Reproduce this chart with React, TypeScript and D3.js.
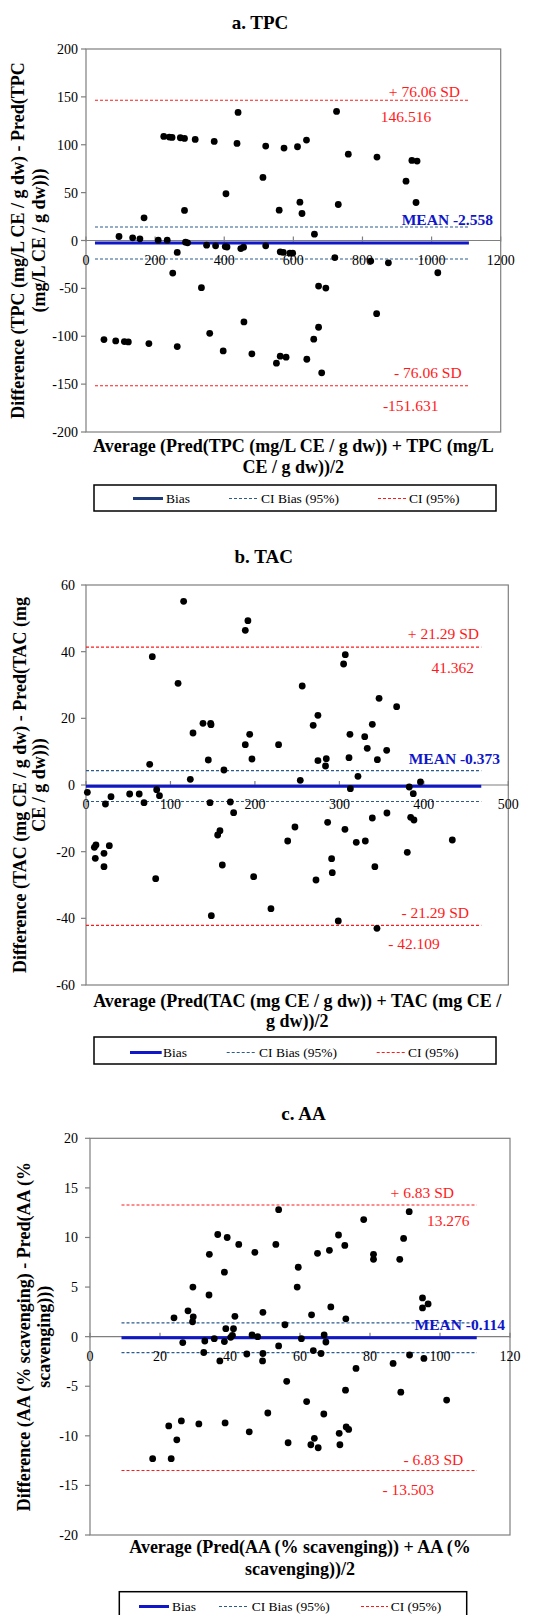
import * as d3 from "d3";

const FONT = "'Liberation Serif', 'Times New Roman', Times, serif";

// ---- a. TPC : [average, difference]
const tpcPoints: [number, number][] = [
  [95.5, 4.2], [135, 2.8], [156, 1.7], [168, 23.7], [209, 0.3], [225, 108.7], [235, 0.3],
  [241, 108], [249, 107.7], [264, -12.5], [273, 107.3], [285, 106.6], [285, 31.4], [288, -1.7],
  [294, -2.4], [316, 105.6], [349, -4.9], [371, 103.5], [375, -5.6], [403, -6.3], [408, -6.8],
  [405, 48.8], [437, 101.4], [440, 133.8], [448, -8.4], [456, -7], [512, 65.9], [520, 98.6],
  [520, -5.6], [559, 31.7], [562, -11.8], [573, 96.5], [571, -12.5], [590, -13.2], [598, -13.2],
  [612, 97.9], [619, 40], [625, 28.2], [638, 104.9], [661, 6.6], [720, -17.8], [725, 134.8],
  [730, 37.6], [759, 90.2], [824, -21.5], [875, -23.3], [842, 87.1], [926, 62], [943, 83.6],
  [958, 82.9], [955, 39.7], [251, -34], [334, -49.3], [52, -103.5], [86, -104.9], [111, -105.6],
  [122.5, -105.9], [182, -107.6], [264, -110.8], [358, -96.9], [397, -115.3], [457, -85],
  [480, -118.4], [551, -128.1], [562, -120.8], [579, -121.9], [639, -124], [659, -103.1],
  [673, -47.6], [694, -49.7], [673, -90.6], [682, -138.2], [841, -76.4], [1018, -33.7],
];
const tpcBias = -2.558;
const tpcCiBias = [-19.26, 14.14];
const tpcLoa = [-151.631, 146.516];
const tpcSpan = [26, 1108];
const tpcXTicks = [0, 200, 400, 600, 800, 1000, 1200];
const tpcYTicks = [-200, -150, -100, -50, 0, 50, 100, 150, 200];

// ---- b. TAC
const tacPoints: [number, number][] = [
  [1.6, -2.2], [29.6, -3.5], [51.7, -2.7], [63, -2.7], [75.4, 6.2], [78.5, 38.5], [83.7, -1.4],
  [87, -3.2], [109, 30.5], [115.6, 55.1], [123.5, 1.7], [126.7, 15.6], [138.5, 18.5], [144.8, 7.5],
  [147.6, 18.5], [148, 18.1], [163.3, 4.5], [188.6, 12.1], [188.6, 46.4], [191.7, 49.3],
  [193.8, 15.2], [196.5, 7.8], [228, 12.1], [253.7, 1.4], [256, 29.7], [269, 17.9], [274.6, 20.9],
  [274.6, 7.3], [283.6, 5.7], [284.5, 7.9], [305, 36.3], [307, 39.1], [311.4, 8.2], [312.5, 15.2],
  [313, -1.1], [322, 2.6], [330, 14.5], [333, 11], [339, 18.2], [345, 7.6], [347, 26], [356, 10.4],
  [367.8, 23.5], [382.7, -0.6], [387.5, -2.6], [396, 0.9],
  [23, -5.7], [68.7, -5.3], [146.8, -5.3], [170.9, -5.1], [174.8, -8.3], [9.9, -18.7], [11.8, -18],
  [11, -22], [21.3, -20.5], [21.3, -24.5], [27.6, -18.2], [82.5, -28.1], [155.9, -15],
  [158.6, -13.7], [161.4, -24], [148.4, -39.2], [198.5, -27.5], [219, -37.1], [238.8, -16.8],
  [247.4, -12.6], [272.3, -28.5], [286.1, -11.2], [290.8, -22.1], [291.6, -26.3], [298.7, -40.8],
  [306.6, -13.3], [320, -17.2], [330.7, -16.8], [339, -9.9], [342, -24.5], [344.5, -43],
  [356.3, -8.4], [380.4, -20.2], [384.4, -9.7], [388.3, -10.5], [433.7, -16.5],
];
const tacBias = -0.373;
const tacCiBias = [-4.95, 4.3];
const tacLoa = [-42.109, 41.362];
const tacSpan = [0, 468];
const tacXTicks = [0, 100, 200, 300, 400, 500];
const tacYTicks = [-60, -40, -20, 0, 20, 40, 60];

// ---- c. AA
const aaPoints: [number, number][] = [
  [24, 1.9], [28, 2.6], [29.4, 5.0], [29.5, 2.0], [29.3, 1.5], [34, 4.2], [34.1, 8.3], [36.5, 10.3],
  [38.4, 6.5], [38.8, 0.8], [39.2, 10], [41, 0.8], [41.4, 2.05], [42.5, 9.3], [47.1, 8.5],
  [46.3, 0.17], [47.9, 0.0], [49.4, 2.45], [53.1, 9.3], [53.9, 12.8], [55.7, 1.2], [59.5, 7.0],
  [59.2, 5.0], [63.3, 2.2], [65, 8.4], [68.4, 8.7], [68.8, 3.0], [71, 10.25], [72.8, 9.2],
  [73.1, 1.8], [78.2, 11.8], [81, 8.3], [81, 7.8], [88.5, 7.8], [89.6, 9.9], [91.2, 12.6],
  [95, 3.9], [95, 2.9], [96.6, 3.3],
  [26.5, -0.6], [32.8, -0.44], [32.5, -1.6], [35.5, -0.2], [37.1, -2.45], [38.4, -0.5],
  [40.2, -0.07], [40.7, 0.13], [44.8, -1.75], [49.4, -1.7], [49.3, -2.45], [53.9, -0.94],
  [60.4, -0.2], [63.8, -1.4], [66, -1.7], [66.9, 0.17], [67.4, -0.54], [56.2, -4.5], [76, -3.2],
  [73, -5.4], [86.6, -2.7], [91.3, -1.85], [95.4, -2.2], [88.8, -5.6], [101.9, -6.4], [61.9, -6.55],
  [66.8, -7.8], [50.8, -7.7], [17.9, -12.3], [23.2, -12.3], [22.5, -9.0], [26.1, -8.5],
  [24.8, -10.4], [31.1, -8.8], [38.6, -8.7], [45.5, -9.6], [56.6, -10.7], [63.1, -10.9],
  [64.1, -10.25], [65.2, -11.2], [71.2, -9.75], [71.4, -10.9], [73.2, -9.1], [73.9, -9.35],
];
const aaBias = -0.114;
const aaCiBias = [-1.61, 1.39];
const aaLoa = [-13.503, 13.276];
const aaSpan = [9, 110.5];
const aaXTicks = [0, 20, 40, 60, 80, 100, 120];
const aaYTicks = [-20, -15, -10, -5, 0, 5, 10, 15, 20];

const legendLabels = ["Bias", "CI Bias (95%)", "CI (95%)"];

const RED = "#ff1a1a";
const BLUE = "#0f17c8";
const STEEL = "#2b5a8c";
const AXIS = "#7f7f7f";

type Lbl = { text: string; x: number; y: number; anchor: string };

type PanelProps = {
  title: string;
  titlePos: [number, number];
  points: [number, number][];
  bias: number;
  ciBias: number[];
  loa: number[];
  span: number[];
  xTicks: number[];
  yTicks: number[];
  box: { l: number; r: number; t: number; b: number };
  yLabelX: number;
  yTitle: string[];
  yTitleX: number[];
  xTitle: string[];
  xTitleY: number[];
  labels: Lbl[];
  meanLabel: Lbl;
  legend: { x: number; y: number; w: number; h: number; base: number; items: number[][]; biasColor: string };
};

function Panel(p: PanelProps) {
  const x = d3.scaleLinear().domain(d3.extent(p.xTicks) as [number, number]).range([p.box.l, p.box.r]);
  const y = d3.scaleLinear().domain(d3.extent(p.yTicks) as [number, number]).range([p.box.b, p.box.t]);
  const y0 = y(0);
  const cy = (p.box.t + p.box.b) / 2;
  const cx = (p.box.l + p.box.r) / 2;
  const hline = (v: number, color: string, w: number, dash?: string) => (
    <line x1={x(p.span[0])} x2={x(p.span[1])} y1={y(v)} y2={y(v)} stroke={color} strokeWidth={w} strokeDasharray={dash} />
  );
  const lg = p.legend;
  return (
    <g>
      <text x={p.titlePos[0]} y={p.titlePos[1]} textAnchor="middle" fontWeight="bold" fontSize={19}>{p.title}</text>
      {/* plot frame */}
      <rect x={p.box.l} y={p.box.t} width={p.box.r - p.box.l} height={p.box.b - p.box.t} fill="none" stroke={AXIS} strokeWidth={1.2} />
      {/* y axis ticks and labels */}
      {p.yTicks.map(t => (
        <g key={"y" + t}>
          <line x1={p.box.l - 5} x2={p.box.l} y1={y(t)} y2={y(t)} stroke={AXIS} strokeWidth={1.2} />
          <text x={p.yLabelX} y={y(t) + 5} textAnchor="end" fontSize={14}>{t}</text>
        </g>
      ))}
      {/* x axis at zero */}
      <line x1={p.box.l} x2={p.box.r} y1={y0} y2={y0} stroke={AXIS} strokeWidth={1.2} />
      {p.xTicks.map(t => (
        <g key={"x" + t}>
          <line x1={x(t)} x2={x(t)} y1={y0 - 4} y2={y0 + 1} stroke={AXIS} strokeWidth={1.2} />
        </g>
      ))}
      {/* reference lines */}
      {hline(p.loa[1], RED, 1.1, "3,2")}
      {hline(p.loa[0], RED, 1.1, "3,2")}
      {hline(p.ciBias[1], STEEL, 1.1, "3,2")}
      {hline(p.ciBias[0], STEEL, 1.1, "3,2")}
      {hline(p.bias, BLUE, 3)}
      {/* x tick labels drawn over the lines */}
      {p.xTicks.map(t => (
        <text key={"xl" + t} x={x(t)} y={y0 + 24} textAnchor="middle" fontSize={14}>{t}</text>
      ))}
      {/* points */}
      {p.points.map((d, i) => (
        <circle key={i} cx={x(d[0])} cy={y(d[1])} r={3.4} fill="#000" />
      ))}
      {/* annotations */}
      {p.labels.map((l, i) => (
        <text key={"l" + i} x={l.x} y={l.y} textAnchor={l.anchor} fontSize={15.5} fill={RED}>{l.text}</text>
      ))}
      <text x={p.meanLabel.x} y={p.meanLabel.y} textAnchor="end" fontSize={15.5} fontWeight="bold" fill={BLUE}>{p.meanLabel.text}</text>
      {/* axis titles */}
      {p.yTitle.map((s, i) => (
        <text key={"yt" + i} transform={`translate(${p.yTitleX[i]},${cy}) rotate(-90)`} textAnchor="middle" fontWeight="bold" fontSize={18}>{s}</text>
      ))}
      {p.xTitle.map((s, i) => (
        <text key={"xt" + i} x={cx} y={p.xTitleY[i]} textAnchor="middle" fontWeight="bold" fontSize={18}>{s}</text>
      ))}
      {/* legend */}
      <rect x={lg.x} y={lg.y} width={lg.w} height={lg.h} fill="#fff" stroke="#000" strokeWidth={1.5} />
      {lg.items.map((it, i) => (
        <g key={"lg" + i}>
          <line x1={it[0]} x2={it[1]} y1={lg.base - 4.5} y2={lg.base - 4.5}
            stroke={i === 0 ? lg.biasColor : i === 1 ? STEEL : RED}
            strokeWidth={i === 0 ? 3 : 1.1} strokeDasharray={i === 0 ? undefined : "3,2"} />
          <text x={it[2]} y={lg.base} fontSize={13.5}>{legendLabels[i]}</text>
        </g>
      ))}
    </g>
  );
}

export default function App() {
  return (
    <svg width={549} height={1615} style={{ position: "absolute", left: 0, top: 0, background: "#fff" }} fontFamily={FONT}>
      <rect width={549} height={1615} fill="#fff" />
      <Panel
        title="a. TPC" titlePos={[260, 29.3]} points={tpcPoints}
        bias={tpcBias} ciBias={tpcCiBias} loa={tpcLoa} span={tpcSpan}
        xTicks={tpcXTicks} yTicks={tpcYTicks}
        box={{ l: 86, r: 500.7, t: 49, b: 432 }} yLabelX={78}
        yTitle={["Difference (TPC (mg/L CE / g dw) - Pred(TPC", "(mg/L CE / g dw)))"]} yTitleX={[24, 45]}
        xTitle={["Average (Pred(TPC (mg/L CE / g dw)) + TPC (mg/L", "CE / g dw))/2"]} xTitleY={[451.7, 472.7]}
        labels={[
          { text: "+ 76.06 SD", x: 460, y: 96.7, anchor: "end" },
          { text: "146.516", x: 406, y: 121.7, anchor: "middle" },
          { text: "- 76.06 SD", x: 461.7, y: 378, anchor: "end" },
          { text: "-151.631", x: 410.7, y: 410.7, anchor: "middle" },
        ]}
        meanLabel={{ text: "MEAN -2.558", x: 493, y: 225, anchor: "end" }}
        legend={{ x: 94, y: 485, w: 402, h: 26, base: 503, items: [[133, 163, 166], [229, 257, 261], [378, 407, 409]], biasColor: "#1f3a78" }}
      />
      <Panel
        title="b. TAC" titlePos={[263.7, 563.3]} points={tacPoints}
        bias={tacBias} ciBias={tacCiBias} loa={tacLoa} span={tacSpan}
        xTicks={tacXTicks} yTicks={tacYTicks}
        box={{ l: 86, r: 508.3, t: 585, b: 985 }} yLabelX={75}
        yTitle={["Difference (TAC (mg CE / g dw) - Pred(TAC (mg", "CE / g dw)))"]} yTitleX={[26, 45]}
        xTitle={["Average (Pred(TAC (mg CE / g dw)) + TAC (mg CE /", "g dw))/2"]} xTitleY={[1006.7, 1027]}
        labels={[
          { text: "+ 21.29 SD", x: 479, y: 639, anchor: "end" },
          { text: "41.362", x: 452.7, y: 672.7, anchor: "middle" },
          { text: "- 21.29 SD", x: 469, y: 918, anchor: "end" },
          { text: "- 42.109", x: 414, y: 949, anchor: "middle" },
        ]}
        meanLabel={{ text: "MEAN -0.373", x: 500, y: 764, anchor: "end" }}
        legend={{ x: 94, y: 1037, w: 402, h: 27, base: 1057, items: [[130, 161.7, 163], [226.7, 255, 259], [376.7, 405, 408]], biasColor: BLUE }}
      />
      <Panel
        title="c. AA" titlePos={[303.5, 1120]} points={aaPoints}
        bias={aaBias} ciBias={aaCiBias} loa={aaLoa} span={aaSpan}
        xTicks={aaXTicks} yTicks={aaYTicks}
        box={{ l: 90, r: 510, t: 1138.3, b: 1535 }} yLabelX={78}
        yTitle={["Difference (AA (% scavenging) - Pred(AA (%", "scavenging)))"]} yTitleX={[30, 50]}
        xTitle={["Average (Pred(AA (% scavenging)) + AA (%", "scavenging))/2"]} xTitleY={[1553.3, 1575]}
        labels={[
          { text: "+ 6.83 SD", x: 454, y: 1198.3, anchor: "end" },
          { text: "13.276", x: 448.3, y: 1225.7, anchor: "middle" },
          { text: "- 6.83 SD", x: 463.3, y: 1465, anchor: "end" },
          { text: "- 13.503", x: 408.3, y: 1495, anchor: "middle" },
        ]}
        meanLabel={{ text: "MEAN -0.114", x: 505, y: 1330, anchor: "end" }}
        legend={{ x: 119.3, y: 1591.7, w: 347.4, h: 30, base: 1611, items: [[139, 169, 172], [219, 247, 251.7], [361, 388, 390.7]], biasColor: BLUE }}
      />
    </svg>
  );
}
